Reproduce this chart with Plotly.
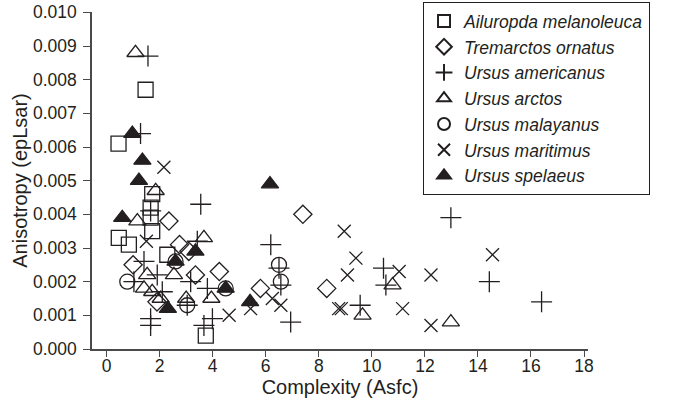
import plotly.graph_objects as go

# Ailuropda melanoleuca (open squares)
ail_x = [1.47, 0.45, 0.46, 0.84, 1.66, 1.66, 1.72, 1.72, 2.29, 3.74]
ail_y = [0.0077, 0.0061, 0.0033, 0.0031, 0.0042, 0.0039, 0.0035, 0.0046, 0.0028, 0.0004]

# Tremarctos ornatus (open diamonds)
tre_x = [7.4, 2.35, 1.0, 2.75, 3.1, 3.35, 4.25, 5.8, 8.3, 1.9]
tre_y = [0.0040, 0.0038, 0.0025, 0.0031, 0.0029, 0.0022, 0.0023, 0.0018, 0.0018, 0.0014]

# Ursus americanus (plus)
ame_x = [1.56, 1.28, 3.55, 6.19, 12.98, 10.44, 10.53, 9.56, 14.43, 16.4, 6.94, 6.5, 6.57,
         1.66, 1.66, 1.41, 1.91, 2.1, 3.04, 3.17, 3.67, 3.99, 3.8, 1.66, 3.42, 1.03]
ame_y = [0.0087, 0.0064, 0.0043, 0.0031, 0.0039, 0.0024, 0.0019, 0.0013, 0.0020, 0.0014, 0.0008, 0.0024, 0.0019,
         0.0009, 0.0007, 0.0026, 0.0022, 0.0017, 0.0013, 0.0020, 0.0007, 0.0009, 0.0018, 0.0041, 0.0032, 0.0020]

# Ursus arctos (open triangles)
arc_x = [1.09, 1.85, 1.16, 3.67, 1.53, 1.41, 1.72, 2.04, 2.54, 3.0, 3.95, 10.78, 9.65, 12.98]
arc_y = [0.0088, 0.0047, 0.0038, 0.0033, 0.0022, 0.0018, 0.0017, 0.0015, 0.0022, 0.0015, 0.0015, 0.0019, 0.0010, 0.0008]

# Ursus malayanus (open circles)
mal_x = [0.78, 2.6, 3.04, 4.49, 6.5, 6.57]
mal_y = [0.0020, 0.0026, 0.0013, 0.0018, 0.0025, 0.0020]

# Ursus maritimus (x)
mar_x = [2.16, 1.5, 4.62, 5.43, 6.25, 6.57, 8.96, 9.4, 9.08, 8.75, 8.85, 11.03, 11.16, 12.23, 12.23, 14.55]
mar_y = [0.0054, 0.0032, 0.0010, 0.0012, 0.0015, 0.0013, 0.0035, 0.0027, 0.0022, 0.0012, 0.0012, 0.0023, 0.0012, 0.0022, 0.0007, 0.0028]

# Ursus spelaeus (filled triangles)
spe_x = [0.97, 1.35, 1.22, 0.59, 2.6, 3.35, 2.31, 4.49, 5.41, 6.16]
spe_y = [0.0064, 0.0056, 0.0050, 0.0039, 0.0026, 0.0029, 0.0012, 0.0018, 0.0014, 0.0049]

y_ticks = [0.000, 0.001, 0.002, 0.003, 0.004, 0.005, 0.006, 0.007, 0.008, 0.009, 0.010]
x_ticks = [0, 2, 4, 6, 8, 10, 12, 14, 16, 18]

INK = "#231f20"
AXIS = "#4a4a4a"

series = [
    ("Ailuropda melanoleuca", ail_x, ail_y, "square-open", 15),
    ("Tremarctos ornatus", tre_x, tre_y, "diamond-open", 14),
    ("Ursus americanus", ame_x, ame_y, "cross-thin-open", 15),
    ("Ursus arctos", arc_x, arc_y, "triangle-up-open", 15),
    ("Ursus malayanus", mal_x, mal_y, "circle-open", 15),
    ("Ursus maritimus", mar_x, mar_y, "x-thin-open", 13),
    ("Ursus spelaeus", spe_x, spe_y, "triangle-up", 15),
]

fig = go.Figure()
for name, xs, ys, sym, sz in series:
    fig.add_trace(go.Scatter(
        x=xs, y=ys, mode="markers", name=name,
        marker=dict(symbol=sym, size=sz, color=INK,
                    line=dict(color=INK, width=1.3)),
        cliponaxis=False,
    ))

fig.update_layout(
    width=676, height=403,
    margin=dict(l=92, r=88, t=12, b=54, autoexpand=False),
    paper_bgcolor="white", plot_bgcolor="white",
    font=dict(family="Liberation Sans, Arial, sans-serif", color=INK, size=17),
    showlegend=True,
    legend=dict(
        x=0.667, y=1.03, xanchor="left", yanchor="top",
        bordercolor=INK, borderwidth=1.2, bgcolor="white",
        font=dict(size=17.5, style="italic", color=INK),
        tracegroupgap=0, itemsizing="constant", itemwidth=30,
        maxheight=320,
    ),
    xaxis=dict(
        range=[-0.55, 18.15], tickvals=x_ticks,
        showline=True, linecolor=AXIS, linewidth=1.5,
        ticks="outside", ticklen=6, tickcolor=AXIS, tickwidth=1.3,
        ticklabelstandoff=-6, ticklabeloverflow="allow",
        showgrid=False, zeroline=False,
        title=dict(text="Complexity (Asfc)", font=dict(size=20), standoff=1),
        tickfont=dict(size=17.5),
    ),
    yaxis=dict(
        range=[0, 0.01001], tickvals=y_ticks,
        tickformat=".3f",
        showline=True, linecolor=AXIS, linewidth=1.5,
        ticks="outside", ticklen=7, tickcolor=AXIS, tickwidth=1.3,
        ticklabelstandoff=3, ticklabeloverflow="allow",
        showgrid=False, zeroline=False,
        title=dict(text="Anisotropy (epLsar)", font=dict(size=20), standoff=0),
        tickfont=dict(size=17.5),
    ),
)

fig.write_html("out.html", config={"displayModeBar": False},
               post_script="document.body.style.margin='0px';")
